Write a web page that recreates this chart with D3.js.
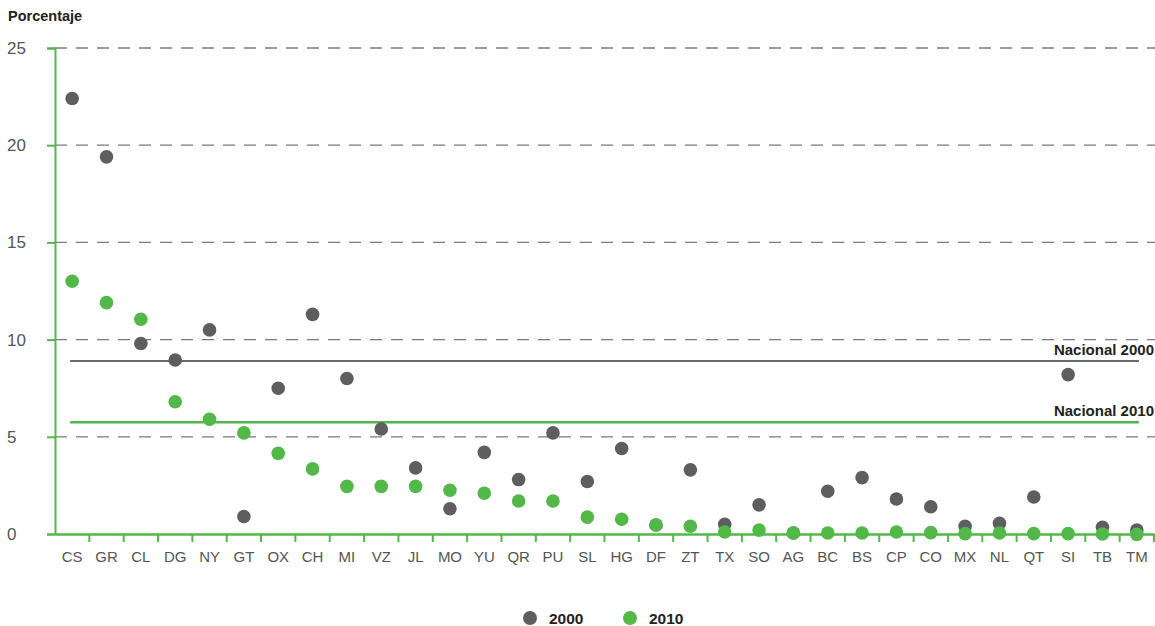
<!DOCTYPE html>
<meta charset="utf-8">
<script src="https://d3js.org/d3.v7.min.js"></script>
<style>
  body { margin: 0; background: #fff; }
  text { font-family: "Liberation Sans", Arial, sans-serif; }
</style>
<div id="chart"></div>
<script>
// states (x categories)
var estados = ["CS","GR","CL","DG","NY","GT","OX","CH","MI","VZ","JL","MO","YU","QR","PU","SL",
               "HG","DF","ZT","TX","SO","AG","BC","BS","CP","CO","MX","NL","QT","SI","TB","TM"];
// percentage 2000
var valores2000 = [22.4,19.4,9.8,8.95,10.5,0.9,7.5,11.3,8.0,5.4,3.4,1.3,4.2,2.8,5.2,2.7,
                   4.4,0.46,3.3,0.5,1.5,0.05,2.2,2.9,1.8,1.4,0.4,0.55,1.9,8.2,0.35,0.2];
// percentage 2010
var valores2010 = [13.0,11.9,11.05,6.8,5.9,5.2,4.15,3.35,2.45,2.45,2.45,2.25,2.1,1.7,1.7,0.87,
                   0.76,0.46,0.4,0.1,0.2,0.05,0.05,0.05,0.1,0.07,0.02,0.05,0.02,0.02,0.0,-0.02];
var nacional = [{anio: "2000", valor: 8.9}, {anio: "2010", valor: 5.75}];
var yTicks = [0, 5, 10, 15, 20, 25];

var gris = "#5e5e61", verde = "#52b848";

var W = 1155, H = 626;
var svg = d3.select("#chart").append("svg")
    .attr("width", W).attr("height", H);

var x = d3.scaleBand().domain(estados).range([55, 1154]);
var y = d3.scaleLinear().domain([0, 25]).range([534, 48]);

// dashed grid lines
svg.selectAll(".grid")
    .data(yTicks.filter(function(d){ return d > 0; }))
  .enter().append("line")
    .attr("x1", 55).attr("x2", W)
    .attr("y1", function(d){ return y(d); })
    .attr("y2", function(d){ return y(d); })
    .attr("stroke", "#7a7a7a")
    .attr("stroke-width", 1.3)
    .attr("stroke-dasharray", "12,9");

// y axis
var yAxis = svg.append("g")
    .attr("transform", "translate(55,0)")
    .call(d3.axisLeft(y).tickValues(yTicks).tickSize(8).tickPadding(17));
yAxis.select(".domain").attr("stroke", verde).attr("stroke-width", 2);
yAxis.selectAll(".tick line").attr("stroke", verde).attr("stroke-width", 2);
yAxis.selectAll(".tick text")
    .attr("font-size", 17).attr("fill", "#555")
    .attr("text-anchor", "start").attr("x", -48);

// x axis
var xAxis = svg.append("g")
    .attr("transform", "translate(0,534)")
    .call(d3.axisBottom(x).tickSize(0).tickPadding(17));
xAxis.select(".domain").attr("stroke", verde).attr("stroke-width", 2.5);
xAxis.selectAll(".tick text").attr("font-size", 15).attr("fill", "#555");
// tick marks at band edges
svg.append("g").selectAll("line")
    .data(estados)
  .enter().append("line")
    .attr("x1", function(d){ return x(d) + x.bandwidth(); })
    .attr("x2", function(d){ return x(d) + x.bandwidth(); })
    .attr("y1", 534).attr("y2", 542)
    .attr("stroke", verde).attr("stroke-width", 2);

// y title
svg.append("text")
    .attr("x", 8).attr("y", 21)
    .attr("font-size", 14.5).attr("font-weight", "bold").attr("fill", "#222")
    .text("Porcentaje");

// national lines
var xIni = x(estados[0]) + x.bandwidth() / 2 - 2;
var xFin = x(estados[estados.length - 1]) + x.bandwidth() / 2 + 2;
svg.selectAll(".nacional")
    .data(nacional)
  .enter().append("line")
    .attr("x1", xIni).attr("x2", xFin)
    .attr("y1", function(d){ return y(d.valor); })
    .attr("y2", function(d){ return y(d.valor); })
    .attr("stroke", function(d){ return d.anio == "2000" ? "#6a6a6c" : verde; })
    .attr("stroke-width", function(d){ return d.anio == "2000" ? 2.2 : 2.6; });
svg.selectAll(".nacLabel")
    .data(nacional)
  .enter().append("text")
    .attr("x", 1154)
    .attr("y", function(d){ return y(d.valor) - 6; })
    .attr("text-anchor", "end")
    .attr("font-size", 15).attr("font-weight", "bold").attr("fill", "#222")
    .text(function(d){ return "Nacional " + d.anio; });

// dots: 2000 first, 2010 on top
function puntos(valores, color) {
  svg.append("g").selectAll("circle")
      .data(valores)
    .enter().append("circle")
      .attr("cx", function(d, i){ return x(estados[i]) + x.bandwidth() / 2; })
      .attr("cy", function(d){ return y(d); })
      .attr("r", 6.8)
      .attr("fill", color);
}
puntos(valores2000, gris);
puntos(valores2010, verde);

// legend
var leyenda = svg.append("g").selectAll("g")
    .data([{t: "2000", c: gris}, {t: "2010", c: verde}])
  .enter().append("g")
    .attr("transform", function(d, i){ return "translate(" + (530 + i * 100) + ",618)"; });
leyenda.append("circle").attr("r", 7).attr("fill", function(d){ return d.c; });
leyenda.append("text")
    .attr("x", 19).attr("y", 5.5)
    .attr("font-size", 15.5).attr("font-weight", "bold").attr("fill", "#222")
    .text(function(d){ return d.t; });
</script>
